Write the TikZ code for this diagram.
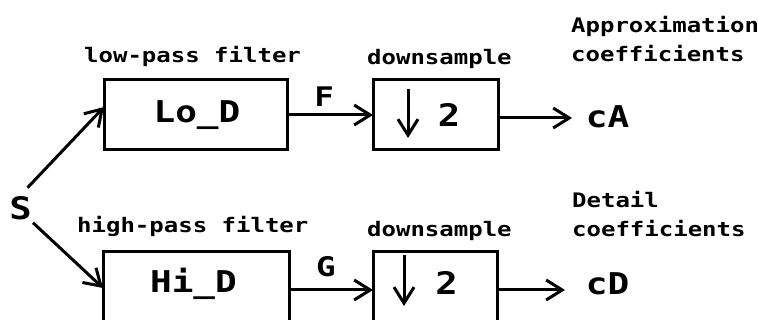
\documentclass[tikz,border=0pt]{standalone}
\usepackage{fontspec}
\newfontfamily\pix[FakeStretch=1.2]{DejaVu Sans Mono}
\usetikzlibrary{arrows.meta,calc}

\begin{document}
\begin{tikzpicture}[x=1pt,y=-1pt,
  blk/.style 2 args={draw,line width=3pt,inner sep=0pt,outer sep=0pt,
    minimum width=#1,minimum height=#2},
  pixarrow/.style={line width=3pt,
    -{Straight Barb[length=16pt,width=20pt,line width=3pt]}},
  small/.style={font=\pix\bfseries\fontsize{20}{29}\selectfont,inner sep=0pt,
    anchor=base west,align=left},
  big/.style={font=\pix\bfseries\fontsize{#1}{#1}\selectfont,inner sep=0pt,
    anchor=base},
]
\clip (0,0) rectangle (758,320);

% filter and downsampling blocks
\node[blk={183pt}{70pt}] (lo)  at (195.5,115) {};
\node[blk={125pt}{70pt}] (ds1) at (435.5,115) {};
\node[blk={186pt}{76pt}] (hi)  at (196,290) {};
\node[blk={124pt}{76pt}] (ds2) at (435,290) {};

% block contents
\node[big=30] (lotxt) at (197,123) {Lo\_D};
\node[big=30] (hitxt) at (193.5,293) {Hi\_D};
\node[big=31] (two1) at (449,127) {2};
\node[big=31] (two2) at (446.5,295) {2};
\draw[pixarrow] (408,89) -- (408,138);
\draw[pixarrow] (404,255) -- (404,306);

% captions (multi-line nodes sit on the baseline of their last line)
\node[small] (lolbl)  at (84,63)   {low-pass filter};
\node[small] (ds1lbl) at (367,65)  {downsample};
\node[small] (hilbl)  at (77,233)  {high-pass filter};
\node[small] (ds2lbl) at (367,237) {downsample};
\node[small] (apx)    at (571,62)  {Approximation\\coefficients};
\node[small] (det)    at (572,237) {Detail\\coefficients};

% signals
\node[big=31] (S)  at (20.5,220) {S};
\node[big=27] (F)  at (324,107) {F};
\node[big=27] (G)  at (326,277) {G};
\node[big=30] (cA) at (607.5,128) {cA};
\node[big=30] (cD) at (607.5,295) {cD};
\coordinate (cAin) at (572,118);
\coordinate (cDin) at (565,290);

% connectors
\draw[pixarrow] ($(S)+(7,-21)$) -- ($(lo.west)+(0,-8)$);
\draw[pixarrow] ($(S)+(12.5,14)$) -- ($(hi.west)+(0,-2)$);
\draw[pixarrow] (lo) -- (ds1);
\draw[pixarrow] (hi) -- (ds2);
\draw[pixarrow] ($(ds1.east)+(0,3)$) -- (cAin);
\draw[pixarrow] (ds2.east) -- (cDin);
\end{tikzpicture}
\end{document}
